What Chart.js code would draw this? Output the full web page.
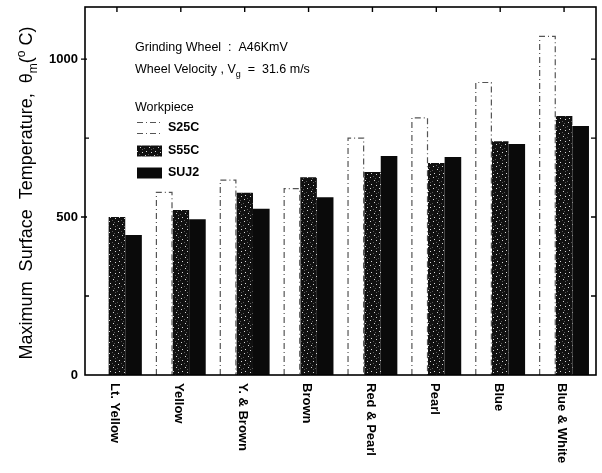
<!DOCTYPE html>
<html><head><meta charset="utf-8">
<script src="https://cdn.jsdelivr.net/npm/chart.js@4/dist/chart.umd.min.js"></script>
<style>html,body{margin:0;padding:0;background:#fff}#wrap{width:602px;height:473px}</style>
</head><body><div id="wrap"><canvas id="c" width="602" height="473"></canvas></div>
<script>
// ---- data ----
const categories = ['Lt. Yellow','Yellow','Y. & Brown','Brown','Red & Pearl','Pearl','Blue','Blue & White'];
const seriesNames = ['S25C','S55C','SUJ2'];
const s25c = [null, 578, 617, 590, 750, 814, 926, 1072];
const s55c = [500, 522, 577, 626, 643, 671, 740, 820];
const suj2 = [443, 493, 526, 563, 693, 690, 731, 788];
const yLabelTicks = [0, 500, 1000];
const yMinorTicks = [250, 500, 750, 1000];
const yTitleParts = ['Maximum  Surface  Temperature,  \u03B8', 'm', '(', 'o', ' C)'];
const note1 = 'Grinding Wheel  :  A46KmV';
const note2Parts = ['Wheel Velocity , V', 'g', '  =  31.6 m/s'];
const legendTitle = 'Workpiece';

// speckled pattern for S55C
function speckle(){
  const c = document.createElement('canvas'); c.width = 9; c.height = 11;
  const g = c.getContext('2d');
  g.fillStyle = '#101010'; g.fillRect(0,0,9,11);
  g.fillStyle = 'rgba(240,240,240,0.9)';
  [[1,1],[5,4],[2,8],[7,9]].forEach(p=>g.fillRect(p[0],p[1],1,1));
  g.fillStyle = 'rgba(120,120,120,0.7)';
  [[4,0],[0,5],[7,6],[6,2]].forEach(p=>g.fillRect(p[0],p[1],1,1));
  return g.createPattern(c,'repeat');
}
const ctx0 = document.getElementById('c').getContext('2d');
const pat = speckle();
const FONT = 'Arial, "Liberation Sans", sans-serif';

const decor = {
  id: 'decor',
  afterDatasetsDraw(chart){
    const ctx = chart.ctx;
    const meta = chart.getDatasetMeta(0);
    ctx.save();
    ctx.strokeStyle = '#555'; ctx.lineWidth = 1.2; ctx.setLineDash([6,3,1,3]);
    meta.data.forEach((b,i)=>{
      if (s25c[i] == null) return;
      const p = b.getProps(['x','y','base','width'], true);
      const l = p.x - p.width/2 + 0.5, r = p.x + p.width/2 - 0.5;
      ctx.beginPath();
      ctx.moveTo(l, p.base); ctx.lineTo(l, p.y); ctx.lineTo(r, p.y); ctx.lineTo(r, p.base);
      ctx.stroke();
    });
    ctx.restore();
  },
  afterDraw(chart){
    const ctx = chart.ctx, a = chart.chartArea, x = chart.scales.x, y = chart.scales.y;
    ctx.save();
    ctx.strokeStyle = '#000'; ctx.lineWidth = 1.6; ctx.setLineDash([]);
    ctx.strokeRect(a.left, a.top, a.right - a.left, a.bottom - a.top);
    ctx.lineWidth = 1.4;
    yMinorTicks.forEach(v=>{
      const py = y.getPixelForValue(v);
      ctx.beginPath();
      if (v % 500 === 0) { ctx.moveTo(a.left - 4, py); ctx.lineTo(a.left + 2, py); }
      else { ctx.moveTo(a.left, py); ctx.lineTo(a.left + 4, py); }
      ctx.moveTo(a.right, py); ctx.lineTo(a.right - 5, py);
      ctx.stroke();
    });
    categories.forEach((c,i)=>{
      const px = x.getPixelForValue(i);
      ctx.beginPath(); ctx.moveTo(px, a.top); ctx.lineTo(px, a.top + 5); ctx.stroke();
    });
    ctx.fillStyle = '#000';
    ctx.font = 'bold 13px ' + FONT;
    ctx.textAlign = 'left'; ctx.textBaseline = 'middle';
    categories.forEach((c,i)=>{
      const px = x.getPixelForValue(i) - 2;
      ctx.save(); ctx.translate(px, a.bottom + 8); ctx.rotate(Math.PI/2);
      ctx.fillText(c, 0, 0); ctx.restore();
    });
    ctx.save();
    ctx.translate(25, (a.top + a.bottom)/2 + 2); ctx.rotate(-Math.PI/2);
    const big = '18px ' + FONT, small = '12px ' + FONT;
    const segs = [[yTitleParts[0], big, 0],[yTitleParts[1], small, 5],[yTitleParts[2], big, 0],[yTitleParts[3], small, -7],[yTitleParts[4], big, 0]];
    let tw = 0; segs.forEach(s=>{ ctx.font = s[1]; tw += ctx.measureText(s[0]).width; });
    let cx = -tw/2; ctx.textAlign = 'left'; ctx.textBaseline = 'alphabetic';
    segs.forEach(s=>{ ctx.font = s[1]; ctx.fillText(s[0], cx, 7 + s[2]); cx += ctx.measureText(s[0]).width; });
    ctx.restore();
    ctx.textAlign = 'left'; ctx.textBaseline = 'middle';
    ctx.font = '12.5px ' + FONT;
    ctx.fillText(note1, 135, 48);
    let nx = 135;
    ctx.fillText(note2Parts[0], nx, 70); nx += ctx.measureText(note2Parts[0]).width;
    ctx.font = '9px ' + FONT; ctx.fillText(note2Parts[1], nx, 75); nx += ctx.measureText(note2Parts[1]).width;
    ctx.font = '12.5px ' + FONT; ctx.fillText(note2Parts[2], nx, 70);
    ctx.fillText(legendTitle, 135, 108);
    const ly = [128, 151, 173];
    ctx.font = 'bold 12.5px ' + FONT;
    seriesNames.forEach((n,i)=>{
      const bx = 137, bw = 25, bh = 11, by = ly[i] - bh/2;
      if (i === 0) {
        ctx.save(); ctx.strokeStyle = '#555'; ctx.lineWidth = 1.2; ctx.setLineDash([6,3,1,3]);
        ctx.beginPath(); ctx.moveTo(bx, by); ctx.lineTo(bx+bw, by); ctx.moveTo(bx, by+bh); ctx.lineTo(bx+bw, by+bh); ctx.stroke();
        ctx.restore();
      } else {
        ctx.fillStyle = i === 1 ? pat : '#0a0a0a';
        ctx.fillRect(bx, by, bw, bh);
      }
      ctx.fillStyle = '#000';
      ctx.fillText(n, 168, ly[i]);
    });
    ctx.restore();
  }
};

new Chart(ctx0, {
  type: 'bar',
  data: {
    labels: categories,
    datasets: [
      { label: seriesNames[0], data: s25c, backgroundColor: '#fff', borderWidth: 0 },
      { label: seriesNames[1], data: s55c, backgroundColor: pat, borderWidth: 0 },
      { label: seriesNames[2], data: suj2, backgroundColor: '#0a0a0a', borderWidth: 0 }
    ]
  },
  options: {
    responsive: false, devicePixelRatio: 1, animation: false,
    layout: { padding: { top: 7, right: 6, bottom: 90, left: 0 } },
    datasets: { bar: { categoryPercentage: 0.78, barPercentage: 1.0 } },
    plugins: { legend: { display: false }, tooltip: { enabled: false } },
    scales: {
      x: { offset: true, grid: { display: false }, border: { display: false }, ticks: { display: false } },
      y: {
        min: 0, max: 1165,
        afterFit(s){ s.width = 85; s.paddingTop = 0; s.paddingBottom = 0; },
        grid: { display: false, drawTicks: false }, border: { display: false },
        ticks: {
          stepSize: 250, padding: 7, color: '#000', font: { family: FONT, size: 13, weight: 'bold' },
          callback: v => yLabelTicks.includes(v) ? String(v) : ''
        }
      }
    }
  },
  plugins: [decor]
});
</script></body></html>
